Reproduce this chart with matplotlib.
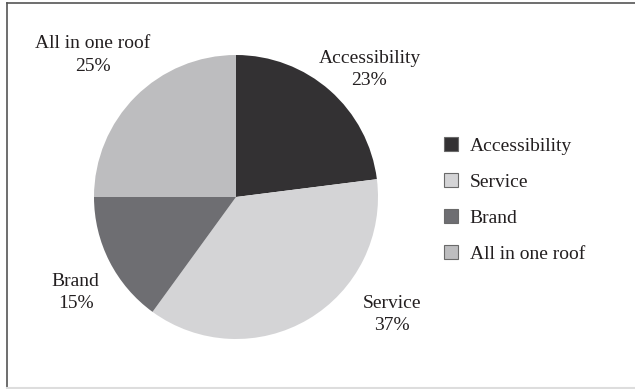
import matplotlib.pyplot as plt
from matplotlib.patches import Patch
from matplotlib.lines import Line2D

plt.rcParams['font.family'] = ['Liberation Serif', 'DejaVu Serif']

# --- Data ---
categories = ['Accessibility', 'Service', 'Brand', 'All in one roof']
shares = [23, 37, 15, 25]
colors = ['#333133', '#d4d4d6', '#6e6e72', '#bdbdbf']

# label anchor points, in pie-radius units from the centre
label_pos = [(0.94, 0.90), (1.10, -0.83), (-1.13, -0.67), (-1.01, 1.00)]

# --- Figure ---
W, H = 635, 389
fig = plt.figure(figsize=(W / 100, H / 100), dpi=100)

cx, cy, r = 236, 197, 142
xl, yl = 1.4, 1.3
ax = fig.add_axes([(cx - xl * r) / W, (H - cy - yl * r) / H,
                   2 * xl * r / W, 2 * yl * r / H])

ax.pie(shares, colors=colors, startangle=90, counterclock=False,
       wedgeprops=dict(edgecolor='none'))
ax.set_aspect('auto')
ax.set_xlim(-xl, xl)
ax.set_ylim(-yl, yl)
ax.axis('off')

for name, val, (lx, ly) in zip(categories, shares, label_pos):
    ax.text(lx, ly, f'{name}\n{val}%', ha='center', va='center',
            fontsize=14, color='#231f20', linespacing=1.4, clip_on=False)

# --- Legend ---
handles = [Patch(facecolor=c, edgecolor='#6a6a6a', linewidth=0.8) for c in colors]
fig.legend(handles, categories, loc='center left',
           bbox_to_anchor=(426 / W, 1 - 200 / H), frameon=False,
           fontsize=14, handlelength=0.75, handleheight=0.75,
           handletextpad=0.6, labelspacing=0.93, labelcolor='#231f20')

# --- Outer frame ---
fig.add_artist(Line2D([7 / W, 7 / W], [0, 1 - 3 / H], transform=fig.transFigure,
                      color='#555555', lw=1.2))
fig.add_artist(Line2D([7 / W, 1], [1 - 3 / H, 1 - 3 / H], transform=fig.transFigure,
                      color='#555555', lw=1.2))
fig.add_artist(Line2D([7 / W, 1], [1.5 / H, 1.5 / H], transform=fig.transFigure,
                      color='#dddddd', lw=1.5))

fig.savefig('out.png', dpi=100)
